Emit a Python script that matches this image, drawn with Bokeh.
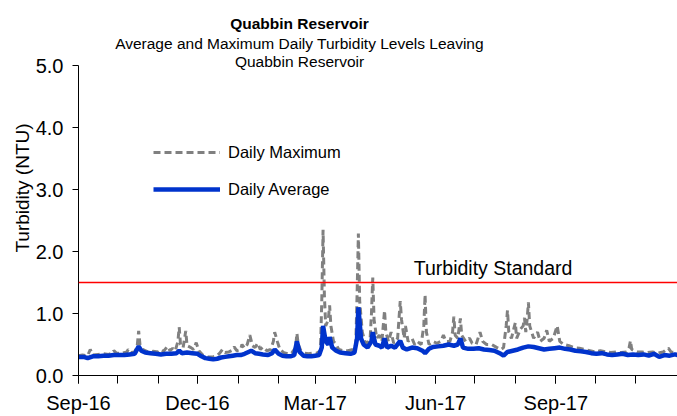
import pandas as pd
from bokeh.plotting import figure
from bokeh.models import (Range1d, FixedTicker, DatetimeTickFormatter, NumeralTickFormatter,
                          Span, Label, Legend, LegendItem, ColumnDataSource)
from bokeh.embed import file_html
from bokeh.resources import INLINE

FONT = "Liberation Sans"

# ---------------- data ----------------
max_dates = [
 "2016-09-01","2016-09-04","2016-09-08","2016-09-10","2016-09-12","2016-09-16","2016-09-20","2016-09-24",
 "2016-09-27","2016-09-28","2016-09-30","2016-10-04","2016-10-08","2016-10-09","2016-10-11","2016-10-14",
 "2016-10-16","2016-10-17","2016-10-18","2016-10-20","2016-10-24","2016-10-28","2016-11-01","2016-11-03",
 "2016-11-05","2016-11-08","2016-11-10","2016-11-12","2016-11-14","2016-11-16","2016-11-17","2016-11-18",
 "2016-11-20","2016-11-22","2016-11-23","2016-11-26","2016-11-28","2016-11-30","2016-12-02","2016-12-05",
 "2016-12-09","2016-12-13","2016-12-16","2016-12-18","2016-12-20","2016-12-22","2016-12-25","2016-12-27",
 "2016-12-29","2016-12-31","2017-01-03","2017-01-04","2017-01-06","2017-01-08","2017-01-10","2017-01-12",
 "2017-01-14","2017-01-16","2017-01-18","2017-01-20","2017-01-23","2017-01-26","2017-01-28","2017-01-29",
 "2017-01-31","2017-02-02","2017-02-05","2017-02-08","2017-02-11","2017-02-14","2017-02-15","2017-02-16",
 "2017-02-18","2017-02-21","2017-02-24","2017-02-27","2017-03-02","2017-03-05","2017-03-06","2017-03-07",
 "2017-03-08","2017-03-09","2017-03-11","2017-03-12","2017-03-13","2017-03-15","2017-03-17","2017-03-19",
 "2017-03-22","2017-03-26","2017-03-30","2017-04-01","2017-04-02","2017-04-03","2017-04-04","2017-04-06",
 "2017-04-08","2017-04-10","2017-04-12","2017-04-13","2017-04-14","2017-04-15","2017-04-17","2017-04-19",
 "2017-04-21","2017-04-22","2017-04-23","2017-04-24","2017-04-26","2017-04-28","2017-04-30","2017-05-03",
 "2017-05-04","2017-05-05","2017-05-06","2017-05-08","2017-05-09","2017-05-11","2017-05-14","2017-05-16",
 "2017-05-18","2017-05-21","2017-05-23","2017-05-24","2017-05-25","2017-05-27","2017-05-30","2017-06-02",
 "2017-06-05","2017-06-07","2017-06-09","2017-06-12","2017-06-14","2017-06-15","2017-06-16","2017-06-18",
 "2017-06-20","2017-06-21","2017-06-24","2017-06-27","2017-06-29","2017-07-02","2017-07-05","2017-07-07",
 "2017-07-10","2017-07-14","2017-07-18","2017-07-21","2017-07-23","2017-07-25","2017-07-26","2017-07-27",
 "2017-07-29","2017-08-01","2017-08-02","2017-08-05","2017-08-07","2017-08-08","2017-08-09","2017-08-10",
 "2017-08-11","2017-08-12","2017-08-15","2017-08-18","2017-08-20","2017-08-23","2017-08-25","2017-08-27",
 "2017-08-30","2017-09-02","2017-09-04","2017-09-07","2017-09-11","2017-09-15","2017-09-19","2017-09-23",
 "2017-09-27","2017-10-01","2017-10-05","2017-10-09","2017-10-13","2017-10-17","2017-10-21","2017-10-25",
 "2017-10-27","2017-10-28","2017-10-29","2017-11-02","2017-11-06","2017-11-10","2017-11-14","2017-11-18",
 "2017-11-22","2017-11-26","2017-11-28","2017-12-01","2017-12-03"]
max_vals = [
 0.32,0.33,0.32,0.42,0.33,0.34,0.35,0.34,
 0.36,0.40,0.36,0.36,0.38,0.42,0.37,0.38,
 0.50,0.72,0.50,0.42,0.38,0.39,0.38,0.42,
 0.39,0.47,0.40,0.44,0.40,0.55,0.78,0.50,
 0.45,0.72,0.48,0.45,0.42,0.53,0.40,0.33,
 0.30,0.30,0.32,0.36,0.42,0.37,0.38,0.40,
 0.46,0.40,0.42,0.50,0.44,0.50,0.65,0.48,
 0.45,0.52,0.42,0.46,0.40,0.42,0.55,0.70,
 0.55,0.42,0.37,0.35,0.36,0.45,0.68,0.50,
 0.40,0.36,0.35,0.36,0.36,0.40,1.20,2.35,
 1.30,0.80,0.90,1.13,0.80,0.55,0.50,0.42,
 0.40,0.40,0.42,0.50,1.30,2.29,1.20,0.70,
 0.55,0.52,0.60,1.00,1.58,0.90,0.60,0.65,
 0.55,0.80,1.05,0.70,0.55,0.70,0.52,0.60,
 0.90,1.20,0.90,0.60,0.80,0.55,0.60,0.50,
 0.55,0.50,0.80,1.30,0.70,0.50,0.55,0.52,
 0.55,0.65,0.55,0.55,0.70,0.95,0.65,0.60,
 0.92,0.65,0.55,0.60,0.52,0.50,0.70,0.55,
 0.50,0.50,0.45,0.42,0.45,0.80,1.05,0.70,
 0.60,0.85,0.60,0.75,0.80,0.93,0.70,0.90,
 1.18,0.80,0.60,0.70,0.55,0.60,0.73,0.55,
 0.60,0.80,0.55,0.50,0.48,0.45,0.44,0.42,
 0.40,0.38,0.40,0.38,0.37,0.38,0.37,0.38,
 0.45,0.56,0.42,0.38,0.38,0.37,0.38,0.36,
 0.38,0.44,0.38,0.37,0.36]

avg_dates = [
 "2016-09-01","2016-09-05","2016-09-08","2016-09-12","2016-09-16","2016-09-20","2016-09-24","2016-09-28",
 "2016-10-02","2016-10-06","2016-10-10","2016-10-14","2016-10-17","2016-10-19","2016-10-22","2016-10-26",
 "2016-10-30","2016-11-03","2016-11-07","2016-11-11","2016-11-15","2016-11-17","2016-11-19","2016-11-23",
 "2016-11-27","2016-12-01","2016-12-04","2016-12-07","2016-12-10","2016-12-13","2016-12-16","2016-12-19",
 "2016-12-22","2016-12-25","2016-12-28","2016-12-31","2017-01-03","2017-01-06","2017-01-09","2017-01-11",
 "2017-01-14","2017-01-17","2017-01-20","2017-01-24","2017-01-27","2017-01-29","2017-02-01","2017-02-04",
 "2017-02-07","2017-02-10","2017-02-13","2017-02-15","2017-02-17","2017-02-20","2017-02-23","2017-02-26",
 "2017-03-01","2017-03-04","2017-03-06","2017-03-07","2017-03-09","2017-03-11","2017-03-12","2017-03-14",
 "2017-03-17","2017-03-20","2017-03-24","2017-03-28","2017-03-31","2017-04-02","2017-04-03","2017-04-05",
 "2017-04-07","2017-04-10","2017-04-13","2017-04-14","2017-04-16","2017-04-19","2017-04-21","2017-04-23",
 "2017-04-25","2017-04-28","2017-05-01","2017-05-05","2017-05-07","2017-05-10","2017-05-14","2017-05-18",
 "2017-05-22","2017-05-24","2017-05-27","2017-05-30","2017-06-03","2017-06-07","2017-06-11","2017-06-15",
 "2017-06-18","2017-06-20","2017-06-22","2017-06-26","2017-06-30","2017-07-04","2017-07-08","2017-07-12",
 "2017-07-16","2017-07-20","2017-07-23","2017-07-26","2017-07-30","2017-08-03","2017-08-07","2017-08-11",
 "2017-08-15","2017-08-19","2017-08-23","2017-08-27","2017-08-31","2017-09-04","2017-09-08","2017-09-12",
 "2017-09-16","2017-09-20","2017-09-24","2017-09-28","2017-10-02","2017-10-06","2017-10-10","2017-10-14",
 "2017-10-18","2017-10-22","2017-10-26","2017-10-30","2017-11-03","2017-11-07","2017-11-11","2017-11-15",
 "2017-11-19","2017-11-23","2017-11-27","2017-12-01","2017-12-03"]
avg_vals = [
 0.30,0.30,0.28,0.31,0.31,0.32,0.32,0.33,
 0.33,0.33,0.34,0.35,0.47,0.40,0.37,0.36,
 0.35,0.34,0.35,0.35,0.36,0.40,0.36,0.37,
 0.36,0.35,0.31,0.28,0.27,0.26,0.27,0.29,
 0.30,0.31,0.32,0.33,0.33,0.35,0.38,0.40,
 0.36,0.35,0.34,0.33,0.36,0.42,0.35,0.32,
 0.31,0.31,0.33,0.55,0.38,0.32,0.31,0.31,
 0.32,0.33,0.45,0.80,0.55,0.50,0.62,0.45,
 0.40,0.37,0.36,0.35,0.37,0.60,1.10,0.60,
 0.50,0.45,0.55,0.70,0.50,0.48,0.45,0.60,
 0.45,0.48,0.45,0.56,0.45,0.42,0.45,0.44,
 0.40,0.36,0.43,0.46,0.47,0.48,0.50,0.48,
 0.50,0.60,0.45,0.43,0.43,0.44,0.42,0.41,
 0.40,0.36,0.32,0.38,0.40,0.42,0.45,0.47,
 0.46,0.44,0.42,0.43,0.44,0.45,0.43,0.42,
 0.40,0.39,0.38,0.36,0.35,0.36,0.34,0.33,
 0.34,0.35,0.33,0.34,0.33,0.34,0.32,0.35,
 0.30,0.33,0.32,0.34,0.33]

y_ticks = [0, 1, 2, 3, 4, 5]
major_months = ["2016-09-01", "2016-12-01", "2017-03-01", "2017-06-01", "2017-09-01"]
minor_months = ["2016-09-01","2016-10-01","2016-11-01","2016-12-01","2017-01-01","2017-02-01",
                "2017-03-01","2017-04-01","2017-05-01","2017-06-01","2017-07-01","2017-08-01",
                "2017-09-01","2017-10-01","2017-11-01"]
standard = 1.5
x_start, x_end = "2016-09-01", "2017-12-03"
title_lines = ["Quabbin Reservoir",
               "Average and Maximum Daily Turbidity Levels Leaving",
               "Quabbin Reservoir"]

def ms(s):
    return pd.Timestamp(s).value / 1e6

# ---------------- layout ----------------
FRAME_BOTTOM_PX = 375      # y pixel of 0.0
PX_PER_UNIT = 62.0         # pixels per NTU
y_top = FRAME_BOTTOM_PX / PX_PER_UNIT   # frame extends to top of canvas (room for titles)

p = figure(width=677, height=416, output_backend="svg", toolbar_location=None,
           x_axis_type="datetime",
           x_range=Range1d(ms(x_start), ms(x_end)), y_range=Range1d(0, y_top),
           min_border_left=78, min_border_right=0, min_border_top=0, min_border_bottom=41)
p.outline_line_color = None
p.xgrid.visible = False
p.ygrid.visible = False
p.background_fill_color = "white"
p.border_fill_color = "white"

src_max = ColumnDataSource(dict(x=pd.to_datetime(max_dates), y=max_vals))
src_avg = ColumnDataSource(dict(x=pd.to_datetime(avg_dates), y=avg_vals))
r_max = p.line("x", "y", source=src_max, line_color="#808080", line_width=3, line_dash="7 4")
r_avg = p.line("x", "y", source=src_avg, line_color="#0033CC", line_width=4.5)

p.add_layout(Span(location=standard, dimension="width", line_color="#FF0000", line_width=1.5))

# axes
xa = p.xaxis[0]
xa.ticker = FixedTicker(ticks=[ms(d) for d in major_months], minor_ticks=[ms(d) for d in minor_months])
xa.formatter = DatetimeTickFormatter(days="%b-%y", months="%b-%y", years="%b-%y")
xa.major_tick_in = 0
xa.major_tick_out = 8
xa.minor_tick_in = 0
xa.minor_tick_out = 8
xa.major_label_standoff = 8

ya = p.yaxis[0]
ya.ticker = FixedTicker(ticks=y_ticks)
ya.formatter = NumeralTickFormatter(format="0.0")
ya.bounds = (y_ticks[0], y_ticks[-1])
ya.major_tick_in = 0
ya.major_tick_out = 6
ya.minor_tick_line_color = None
ya.major_label_standoff = 9
ya.axis_label = "Turbidity (NTU)"
ya.axis_label_standoff = 0
ya.axis_label_text_font_style = "normal"

for ax in (xa, ya):
    ax.axis_line_color = "black"
    ax.major_tick_line_color = "black"
    ax.major_label_text_font = FONT
    ax.major_label_text_font_size = "20px"
    ax.major_label_text_color = "black"
    ax.axis_label_text_font = FONT
    ax.axis_label_text_font_size = "19px"
    ax.axis_label_text_color = "black"
xa.minor_tick_line_color = "black"

# titles (inside the frame, above the 5.0 end of the y axis)
title_x = ms("2017-02-17")
title_y = [5.68, 5.35, 5.06]
title_style = ["bold", "normal", "normal"]
for txt, yy, style in zip(title_lines, title_y, title_style):
    p.add_layout(Label(x=title_x, y=yy, text=txt, text_align="center", text_baseline="middle",
                       text_font=FONT, text_font_size="15.5px", text_font_style=style,
                       text_color="black"))

p.add_layout(Label(x=ms("2017-07-15"), y=standard, text="Turbidity Standard", text_align="center",
                   text_baseline="bottom", y_offset=4, text_font=FONT, text_font_size="19.5px",
                   text_color="black"))

legend = Legend(items=[LegendItem(label="Daily Maximum", renderers=[r_max]),
                       LegendItem(label="Daily Average", renderers=[r_avg])],
                location=(75, 176), glyph_width=67, glyph_height=20, spacing=17,
                label_standoff=8, padding=0, margin=0, border_line_color=None,
                background_fill_alpha=0, label_text_font=FONT, label_text_font_size="16.5px",
                label_text_color="black")
p.add_layout(legend)

open("out.html", "w").write(file_html(p, INLINE))
